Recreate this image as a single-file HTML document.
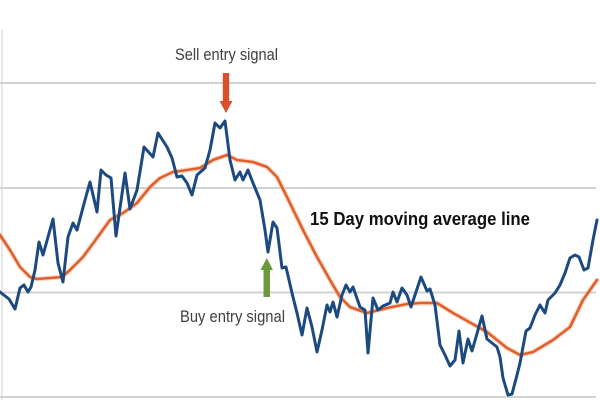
<!DOCTYPE html>
<html>
<head>
<meta charset="utf-8">
<style>
html,body{margin:0;padding:0;background:#fff;}
svg{display:block;}
text{font-family:"Liberation Sans",Arial,sans-serif;}
</style>
</head>
<body>
<svg width="600" height="400" viewBox="0 0 600 400" xmlns="http://www.w3.org/2000/svg">
<rect width="600" height="400" fill="#ffffff"/>
<!-- faint axis -->
<line x1="2" y1="30" x2="2" y2="400" stroke="#e6e6e6" stroke-width="2"/>
<!-- gridlines -->
<g stroke="#d2d2d2" stroke-width="2">
<line x1="0" y1="83" x2="596" y2="83"/>
<line x1="0" y1="188" x2="596" y2="188"/>
<line x1="0" y1="292.5" x2="596" y2="292.5"/>
<line x1="0" y1="397" x2="596" y2="397"/>
</g>
<!-- orange moving average -->
<polyline fill="none" stroke="#f4b79a" stroke-width="5" stroke-linejoin="round" stroke-linecap="round" opacity="0.5"
points="0,235 10,250 20,267 30,277 37,279 50,278 62,277 70,270 83,257 97,238 110,220 123,213 137,203 150,187 160,178 173,172 187,170 200,168 213,160 227,155 237,160 253,162 267,167 277,177 287,197 303,230 317,257 330,280 340,297 350,307 367,313 387,308 407,304 420,303 437,303 453,313 487,332 507,348 520,355 533,352 553,340 570,327 583,300 597,280"/>
<polyline fill="none" stroke="#e0602c" stroke-width="2.6" stroke-linejoin="round" stroke-linecap="round"
points="0,235 10,250 20,267 30,277 37,279 50,278 62,277 70,270 83,257 97,238 110,220 123,213 137,203 150,187 160,178 173,172 187,170 200,168 213,160 227,155 237,160 253,162 267,167 277,177 287,197 303,230 317,257 330,280 340,297 350,307 367,313 387,308 407,304 420,303 437,303 453,313 487,332 507,348 520,355 533,352 553,340 570,327 583,300 597,280"/>
<!-- blue price -->
<polyline fill="none" stroke="#1c4a80" stroke-width="3" stroke-linejoin="round" stroke-linecap="round"
points="0,292 9,299 15,309 20,288 24,285 28,292 31,287 35,270 39,242 43,255 53,219 58,263 63,282 68,237 73,223 77,230 85,200 90,182 97,212 101,170 106,175 111,178 116,236 125,173 130,209 137,190 144,147 153,157 158,133 167,147 172,158 177,177 182,176 187,183 192,195 197,175 205,168 210,150 215,123 220,128 225,121 230,160 235,180 240,172 243,180 248,170 253,183 260,200 265,230 268,252 273,222 277,228 282,268 286,267 292,293 297,313 302,335 307,308 312,327 317,352 322,330 327,305 330,312 333,302 337,317 342,295 346,285 350,292 353,287 360,307 365,310 368,353 373,298 378,310 383,306 390,303 393,292 397,302 402,288 407,295 411,307 415,295 421,277 427,291 430,289 435,305 440,345 445,355 450,366 455,360 459,331 463,363 468,339 472,351 482,316 487,339 497,347 500,357 503,378 508,395 512,394 517,375 520,363 526,331 530,328 535,315 540,305 545,313 548,300 555,293 560,285 565,273 570,258 575,255 579,257 584,270 588,268 593,240 597,220"/>
<!-- sell arrow -->
<rect x="222.8" y="73" width="6.4" height="29" fill="#d9502a"/>
<polygon points="219.5,101 232.5,101 226,113" fill="#d9502a"/>
<!-- buy arrow -->
<rect x="263.5" y="269" width="6.5" height="28" fill="#6b9a3c"/>
<polygon points="260.5,270 273,270 266.8,258" fill="#6b9a3c"/>
<!-- labels -->
<text x="175" y="60" font-size="16.5" fill="#3f3f3f" textLength="103" lengthAdjust="spacingAndGlyphs">Sell entry signal</text>
<text x="180" y="322" font-size="16.5" fill="#3f3f3f" textLength="105" lengthAdjust="spacingAndGlyphs">Buy entry signal</text>
<text x="310" y="225" font-size="18" font-weight="bold" fill="#111" textLength="220" lengthAdjust="spacingAndGlyphs">15 Day moving average line</text>
</svg>
</body>
</html>
